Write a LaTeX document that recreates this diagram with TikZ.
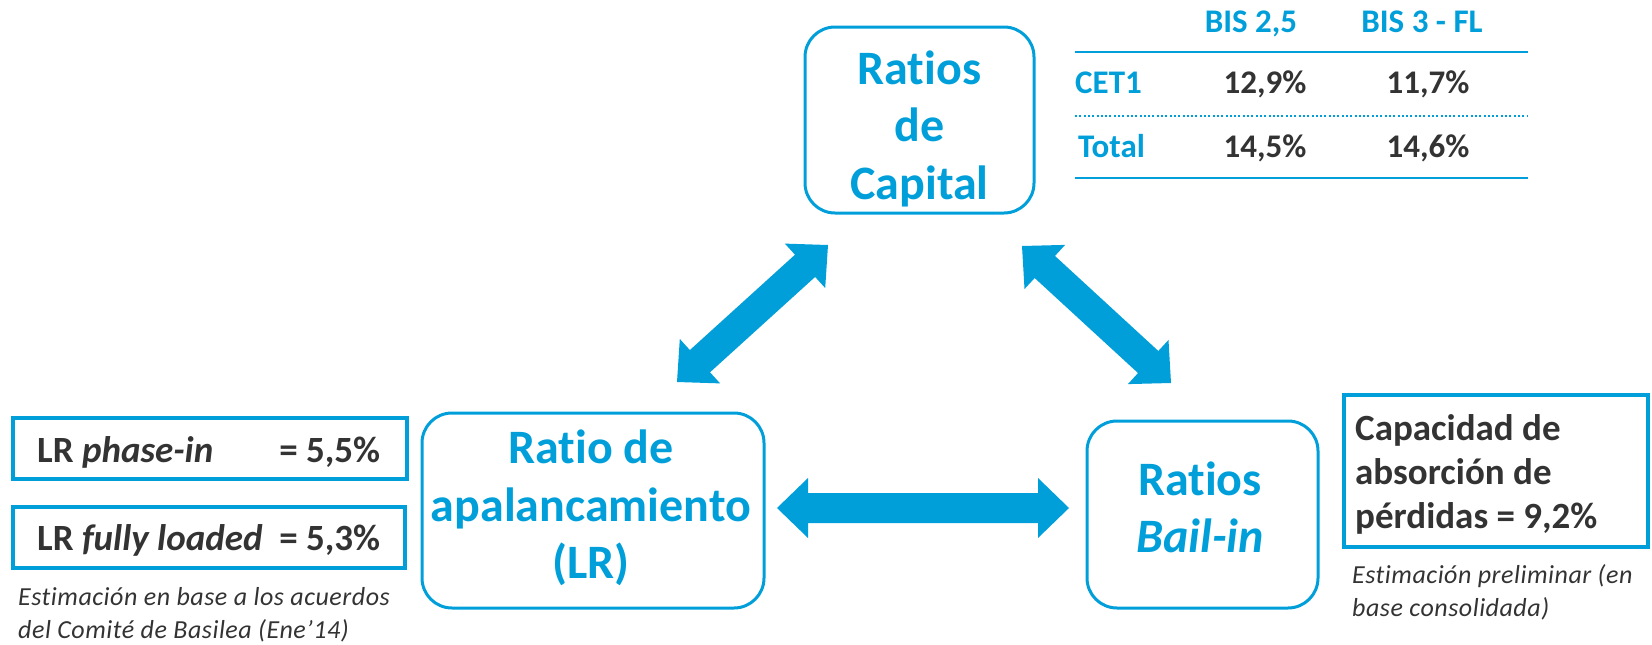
\documentclass[tikz,border=0pt]{standalone}
\usepackage{fontspec}
\setmainfont{Carlito}[Ligatures=NoCommon]
\newfontfamily\notefont[LetterSpace=2,Ligatures=NoCommon]{Carlito}
\usetikzlibrary{calc}
\definecolor{cblue}{RGB}{0,159,218}
\definecolor{cgray}{RGB}{51,51,51}
\newcommand{\blockarrow}[2]{%
  \path ($(#1)!31pt!(#2)$) coordinate (h1) ($(#2)!31pt!(#1)$) coordinate (h2);
  \fill[cblue] (#1) -- ($(h1)!30pt!90:(#2)$) -- ($(h1)!15pt!90:(#2)$)
    -- ($(h2)!15pt!-90:(#1)$) -- ($(h2)!30pt!-90:(#1)$) -- (#2)
    -- ($(h2)!30pt!90:(#1)$) -- ($(h2)!15pt!90:(#1)$)
    -- ($(h1)!15pt!-90:(#2)$) -- ($(h1)!30pt!-90:(#2)$) -- cycle;}
\begin{document}
\begin{tikzpicture}[x=1pt,y=-1pt,
  rbox/.style={draw=cblue, line width=3pt, rounded corners=30pt, inner sep=0pt, minimum width=#1},
  sbox/.style={draw=cblue, line width=3.5pt, inner sep=0pt},
  bigtxt/.style={text=cblue, font=\bfseries\fontsize{48}{57.5}\selectfont, align=center, inner sep=0pt},
  valtxt/.style={text=cgray, font=\bfseries\fontsize{37}{44}\selectfont, inner sep=0pt},
  tabhead/.style={text=cblue, font=\bfseries\fontsize{33}{40}\selectfont, inner sep=0pt, anchor=base},
  tabval/.style={text=cgray, font=\bfseries\fontsize{33}{40}\selectfont, inner sep=0pt, anchor=base},
  notetxt/.style={text=cgray, font=\notefont\itshape\fontsize{26}{33}\selectfont, align=left, inner sep=0pt, anchor=west},
  tabline/.style={draw=cblue, line width=2.5pt}
]
\useasboundingbox (0,0) rectangle (1652,645);

% main rounded boxes
\node[rbox=229pt, minimum height=186pt] (cap) at (919.5,120) {};
\node[bigtxt] (captxt) at (919.5,128.5) {Ratios\\de\\Capital};

\node[rbox=342pt, minimum height=195pt] (lev) at (593,510.5) {};
\node[bigtxt] (levtxt) at (591,508) {Ratio de\\apalancamiento\\(LR)};

\node[rbox=231pt, minimum height=187pt] (bail) at (1202.5,514.5) {};
\node[bigtxt] (bailtxt) at (1200,507.5) {Ratios\\\textit{Bail-in}};

% table
\node[tabhead] (h1t) at (1251,32) {BIS 2,5};
\node[tabhead] (h2t) at (1422,32) {BIS 3 - FL};
\coordinate (tl) at (1075,52); \coordinate (tr) at (1528,52);
\coordinate (ml) at (1075,116); \coordinate (mr) at (1528,116);
\coordinate (bl) at (1075,178); \coordinate (br) at (1528,178);
\draw[tabline] (tl) -- (tr);
\draw[draw=cblue, line width=2pt, dash pattern=on 2pt off 2.3pt] (ml) -- (mr);
\draw[tabline] (bl) -- (br);
\node[tabhead, anchor=base west] (cet) at (1075,93) {CET1};
\node[tabval] (v11) at (1265,93) {12,9\%};
\node[tabval] (v12) at (1428,93) {11,7\%};
\node[tabhead, anchor=base west] (tot) at (1078,157) {Total};
\node[tabval] (v21) at (1265,157) {14,5\%};
\node[tabval] (v22) at (1428,157) {14,6\%};

% left boxes
\node[sbox, minimum width=394pt, minimum height=61pt] (lrb1) at (210,448.5) {};
\node[valtxt, anchor=base west] (lr1) at (37,462) {\makebox[343pt][l]{LR \textit{phase-in}\hfill= 5,5\%}};
\node[sbox, minimum width=392pt, minimum height=61pt] (lrb2) at (209,537.5) {};
\node[valtxt, anchor=base west] (lr2) at (37,550) {\makebox[343pt][l]{LR \textit{fully loaded}\hfill= 5,3\%}};
\node[notetxt] (note1) at (18,615) {Estimación en base a los acuerdos\\del Comité de Basilea (Ene’14)};

% right box
\node[sbox, minimum width=304pt, minimum height=152pt] (capb) at (1496,471) {};
\node[valtxt, align=left, anchor=west] (captx) at (1355,474.8) {Capacidad de\\absorción de\\pérdidas = 9,2\%};
\node[notetxt] (note2) at (1352,592.5) {Estimación preliminar (en\\base consolidada)};

% block arrows
\coordinate (a1) at (828,245); \coordinate (b1) at (677,382);
\coordinate (a2) at (1022,246); \coordinate (b2) at (1171,383);
\coordinate (a3) at (777,508); \coordinate (b3) at (1069,508);
\blockarrow{a1}{b1}
\blockarrow{a2}{b2}
\blockarrow{a3}{b3}
\end{tikzpicture}
\end{document}
